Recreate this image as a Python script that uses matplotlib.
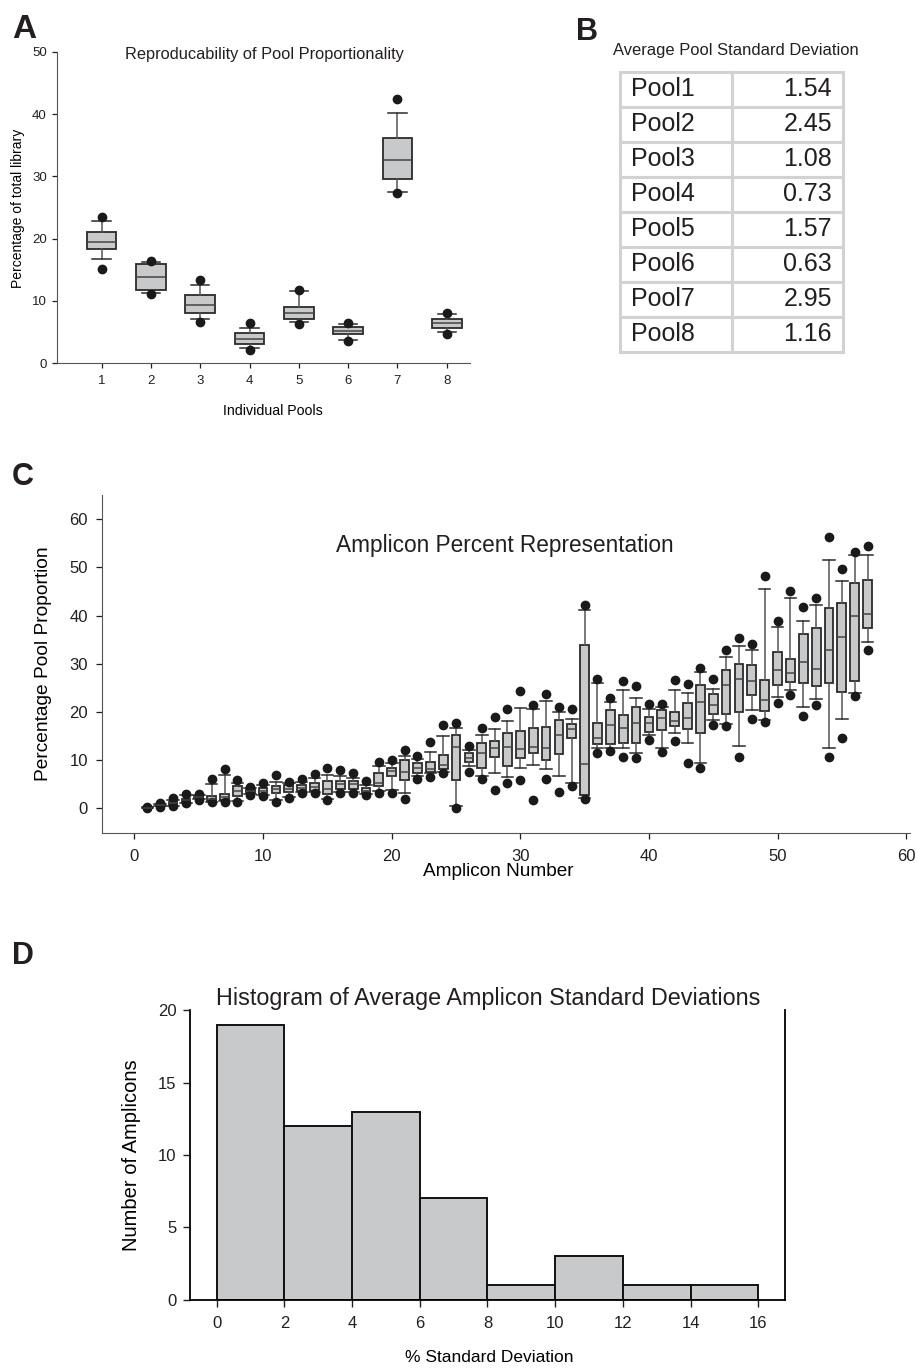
import matplotlib.pyplot as plt

plt.rcParams['font.family'] = ['Liberation Sans', 'DejaVu Sans']
plt.rcParams['text.color'] = '#231f20'
plt.rcParams['xtick.color'] = '#231f20'
plt.rcParams['ytick.color'] = '#231f20'

# ---- panel A: pool proportionality (box stats)
pools = [1, 2, 3, 4, 5, 6, 7, 8]
pool_q1 = [18.3, 11.7, 8.1, 3.1, 7.1, 4.7, 29.5, 5.6]
pool_med = [19.4, 13.8, 9.4, 3.9, 8.0, 5.2, 32.7, 6.5]
pool_q3 = [21.1, 15.9, 10.9, 4.8, 9.0, 5.9, 36.1, 7.1]
pool_lo = [16.8, 11.3, 7.1, 2.4, 6.6, 3.7, 27.5, 5.0]
pool_hi = [22.8, 16.3, 12.5, 5.7, 11.6, 6.3, 40.1, 7.9]
pool_out_lo = [15.2, 11.2, 6.6, 2.2, 6.3, 3.6, 27.4, 4.7]
pool_out_hi = [23.5, 16.4, 13.3, 6.5, 11.8, 6.5, 42.4, 8.0]

# ---- panel B: table
pool_names = ['Pool1', 'Pool2', 'Pool3', 'Pool4', 'Pool5', 'Pool6', 'Pool7', 'Pool8']
pool_sd = [1.54, 2.45, 1.08, 0.73, 1.57, 0.63, 2.95, 1.16]

# ---- panel C: amplicon percent representation
amplicons = list(range(1, 58))
amp_q1 = [0.0, 0.5, 0.7, 1.3, 2.1, 1.5, 1.7, 2.5, 3.1, 3.0,
          3.2, 3.3, 3.6, 3.6, 2.9, 3.9, 3.9, 3.1, 4.6, 6.6,
          5.8, 7.4, 7.6, 8.1, 5.8, 9.5, 8.4, 10.7, 8.8, 10.5,
          11.5, 10.0, 11.3, 14.5, 2.8, 13.4, 13.4, 13.6, 13.5, 15.9,
          16.2, 17.0, 16.4, 15.7, 19.5, 19.5, 20.0, 23.6, 20.1, 25.6,
          26.2, 26.0, 25.3, 26.0, 24.1, 26.4, 37.5]
amp_med = [0.1, 0.6, 1.0, 1.7, 2.4, 2.0, 2.3, 3.6, 3.6, 3.6,
           4.0, 4.0, 4.1, 4.5, 3.9, 5.0, 5.0, 3.6, 5.3, 7.7,
           7.5, 8.4, 8.1, 9.0, 12.8, 10.5, 11.5, 12.6, 12.7, 12.2,
           12.7, 12.4, 15.3, 16.5, 9.1, 14.6, 17.2, 16.6, 17.6, 17.7,
           18.8, 18.1, 18.8, 22.0, 21.5, 25.5, 26.8, 26.5, 22.4, 28.6,
           28.1, 30.4, 28.9, 32.9, 35.5, 40.0, 40.3]
amp_q3 = [0.2, 0.8, 1.3, 2.0, 2.6, 2.5, 2.9, 4.6, 4.1, 4.3,
          4.6, 4.8, 4.8, 5.3, 5.7, 5.7, 5.7, 4.3, 7.4, 8.4,
          10.1, 9.3, 9.7, 11.0, 15.2, 11.4, 13.6, 13.9, 15.7, 16.0,
          16.6, 16.9, 18.3, 17.4, 33.8, 17.6, 20.4, 19.3, 21.1, 19.0,
          20.4, 19.9, 21.8, 25.5, 23.7, 28.6, 30.0, 29.7, 26.7, 32.4,
          31.0, 36.2, 37.5, 41.6, 42.6, 46.7, 47.4]
amp_lo = [0.0, 0.4, 0.5, 1.1, 1.9, 1.3, 1.4, 1.6, 2.9, 2.7,
          1.8, 2.4, 3.3, 3.3, 2.0, 3.4, 3.4, 2.9, 3.5, 3.7,
          3.1, 6.7, 7.4, 7.6, 0.5, 8.8, 6.7, 7.4, 6.4, 8.4,
          8.9, 8.2, 6.7, 5.2, 2.2, 12.4, 12.4, 12.4, 11.5, 15.2,
          12.6, 15.7, 13.5, 9.3, 18.4, 17.4, 13.0, 20.3, 18.4, 23.1,
          24.6, 21.0, 22.6, 12.6, 18.6, 24.0, 34.4]
amp_hi = [0.2, 0.9, 1.8, 2.8, 2.8, 5.0, 7.0, 5.3, 4.3, 4.8,
          5.5, 5.2, 5.5, 6.3, 7.0, 6.7, 6.2, 4.8, 8.7, 9.3,
          10.8, 10.3, 11.7, 15.0, 16.6, 12.0, 15.1, 16.5, 18.1, 20.8,
          20.5, 22.2, 20.0, 18.6, 41.1, 25.9, 22.0, 24.5, 22.8, 20.6,
          21.1, 24.5, 23.9, 28.2, 24.8, 31.4, 33.7, 32.8, 45.5, 37.6,
          43.7, 38.8, 42.1, 51.6, 47.2, 52.6, 52.6]
amp_out_lo = [0.0, 0.3, 0.4, 1.0, 1.8, 1.3, 1.3, 1.2, 2.7, 2.5,
              1.3, 2.1, 3.2, 3.1, 1.7, 3.2, 3.2, 2.7, 3.1, 3.1,
              2.0, 6.1, 6.4, 7.4, 0.1, 7.5, 6.0, 3.8, 5.2, 5.9,
              1.7, 6.0, 3.4, 4.6, 1.9, 11.4, 11.9, 10.6, 10.4, 14.1,
              11.7, 13.9, 9.3, 8.3, 17.2, 17.0, 10.6, 18.6, 17.9, 21.9,
              23.6, 19.1, 21.4, 10.6, 14.5, 23.3, 32.9]
amp_out_hi = [0.2, 1.0, 2.1, 3.0, 2.9, 6.0, 8.1, 5.9, 4.5, 5.2,
              7.0, 5.5, 6.0, 7.2, 8.4, 7.9, 7.4, 5.7, 9.5, 10.0,
              12.1, 10.8, 13.7, 17.2, 17.6, 12.9, 16.7, 19.0, 20.5, 24.4,
              21.5, 23.7, 21.0, 20.5, 42.2, 26.9, 22.9, 26.5, 25.3, 21.7,
              21.7, 26.7, 25.7, 29.1, 26.9, 32.9, 35.3, 34.1, 48.3, 38.9,
              45.1, 41.8, 43.6, 56.3, 49.6, 53.1, 54.5]

# ---- panel D: histogram of average amplicon SD
sd_edges = [0, 2, 4, 6, 8, 10, 12, 14, 16]
sd_counts = [19, 12, 13, 7, 1, 3, 1, 1]

box_fill = '#c8c9cb'
dark = '#2b2b2b'


def box_stats(q1, med, q3, lo, hi, olo, ohi):
    return [dict(q1=a, med=b, q3=c, whislo=d, whishi=e, fliers=[f, g])
            for a, b, c, d, e, f, g in zip(q1, med, q3, lo, hi, olo, ohi)]


def draw_boxes(ax, stats, pos, w, cw, ms):
    ax.bxp(stats, positions=pos, widths=w, capwidths=cw, patch_artist=True,
           manage_ticks=False,
           boxprops=dict(facecolor=box_fill, edgecolor=dark, linewidth=1.3),
           medianprops=dict(color='#444444', linewidth=1.1),
           whiskerprops=dict(color='#555555', linewidth=1.1),
           capprops=dict(color=dark, linewidth=1.1),
           flierprops=dict(marker='o', markerfacecolor='#1a1a1a',
                           markeredgecolor='#1a1a1a', markersize=ms))


fig = plt.figure(figsize=(9.17, 13.71), dpi=100)

# ================= A
axA = fig.add_axes([0.0618, 0.735, 0.4507, 0.2273])
draw_boxes(axA, box_stats(pool_q1, pool_med, pool_q3, pool_lo, pool_hi,
                          pool_out_lo, pool_out_hi), pools, 0.6, 0.37, 6)
axA.set_xlim(0.09, 8.47)
axA.set_ylim(0, 50)
axA.set_xticks(pools)
axA.set_yticks([0, 10, 20, 30, 40, 50])
axA.tick_params(labelsize=9.5, length=3.6, width=0.9, pad=3.5)
axA.tick_params(axis='x', pad=4.5)
for s in ['top', 'right']:
    axA.spines[s].set_visible(False)
for s in ['left', 'bottom']:
    axA.spines[s].set_color('#555555')
axA.text(0.503, 0.992, 'Reproducability of Pool Proportionality',
         transform=axA.transAxes, ha='center', va='center', fontsize=11.8)
axA.set_xlabel('Individual Pools', fontsize=10.2)
axA.xaxis.set_label_coords(0.523, -0.152)
axA.xaxis.label.set_va('center')
axA.set_ylabel('Percentage of total library', fontsize=10)
axA.yaxis.set_label_coords(-0.093, 0.498)
axA.yaxis.label.set_va('center')

# ================= B
fig.text(0.803, 0.9635, 'Average Pool Standard Deviation', ha='center',
         va='center', fontsize=11.9)
axB = fig.add_axes([0.6761, 0.7435, 0.2435, 0.2042])
axB.axis('off')
cells = [[n, f'{v:.2f}'] for n, v in zip(pool_names, pool_sd)]
tab = axB.table(cellText=cells, bbox=[0, 0, 1, 1], cellLoc='left')
tab.auto_set_font_size(False)
for (r, c), cell in tab.get_celld().items():
    cell.set_edgecolor('#d2d2d2')
    cell.set_linewidth(2.2)
    cell.get_text().set_fontsize(18)
    if c == 1:
        cell._loc = 'right'
        cell.get_text().set_ha('right')

# ================= C
axC = fig.add_axes([0.1116, 0.3922, 0.8808, 0.2467])
draw_boxes(axC, box_stats(amp_q1, amp_med, amp_q3, amp_lo, amp_hi,
                          amp_out_lo, amp_out_hi), amplicons, 0.68, 0.9, 6)
axC.set_xlim(-2.5, 60.3)
axC.set_ylim(-5.2, 65)
axC.set_xticks([0, 10, 20, 30, 40, 50, 60])
axC.set_xticklabels(['0', '10', '20', '30', '40', '50', '60'])
axC.set_yticks([0, 10, 20, 30, 40, 50, 60])
axC.tick_params(labelsize=12, length=4.5, width=0.9)
axC.tick_params(axis='y', pad=6)
axC.tick_params(axis='x', pad=6.5)
for s in ['top', 'right']:
    axC.spines[s].set_visible(False)
for s in ['left', 'bottom']:
    axC.spines[s].set_color('#555555')
axC.text(0.4986, 0.852, 'Amplicon Percent Representation',
         transform=axC.transAxes, ha='center', va='center', fontsize=16.3)
axC.set_xlabel('Amplicon Number', fontsize=13.7)
axC.xaxis.set_label_coords(0.49, -0.112)
axC.xaxis.label.set_va('center')
axC.set_ylabel('Percentage Pool Proportion', fontsize=13.8)
axC.yaxis.set_label_coords(-0.0734, 0.5)
axC.yaxis.label.set_va('center')

# ================= D
axD = fig.add_axes([0.2072, 0.0518, 0.6492, 0.2115])
axD.bar(sd_edges[:-1], sd_counts, width=2, align='edge', color=box_fill,
        edgecolor='#111111', linewidth=1.4)
axD.set_xlim(-0.79, 16.8)
axD.set_ylim(0, 20)
axD.set_xticks(sd_edges)
axD.set_yticks([0, 5, 10, 15, 20])
axD.tick_params(labelsize=12, length=4.8, width=1)
axD.tick_params(axis='y', pad=5)
axD.tick_params(axis='x', pad=6.5)
axD.spines['top'].set_visible(False)
for s in ['left', 'bottom', 'right']:
    axD.spines[s].set_linewidth(1.3)
axD.text(0.501, 1.04, 'Histogram of Average Amplicon Standard Deviations',
         transform=axD.transAxes, ha='center', va='center', fontsize=16.8)
axD.set_xlabel('% Standard Deviation', fontsize=12.5)
axD.xaxis.set_label_coords(0.503, -0.197)
axD.xaxis.label.set_va('center')
axD.set_ylabel('Number of Amplicons', fontsize=14.5)
axD.yaxis.set_label_coords(-0.098, 0.5)
axD.yaxis.label.set_va('center')

# panel letters
fig.text(0.0128, 0.9721, 'A', fontsize=24, fontweight='bold', va='baseline')
fig.text(0.628, 0.9708, 'B', fontsize=22, fontweight='bold', va='baseline')
fig.text(0.0128, 0.6459, 'C', fontsize=22, fontweight='bold', va='baseline')
fig.text(0.0128, 0.2965, 'D', fontsize=22, fontweight='bold', va='baseline')

fig.savefig('out.png', dpi=100)
